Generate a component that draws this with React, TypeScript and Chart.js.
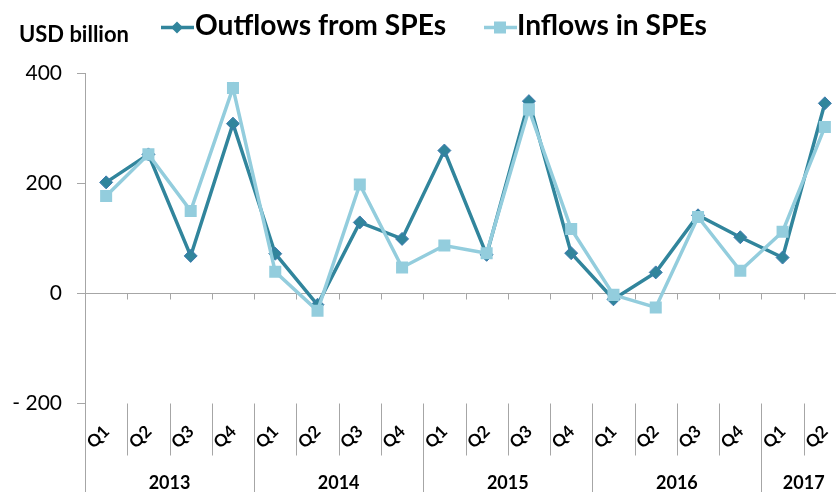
import React, { useEffect, useRef } from 'react';
import { Chart, registerables } from 'chart.js';

Chart.register(...registerables);

const quarters = ['Q1', 'Q2', 'Q3', 'Q4', 'Q1', 'Q2', 'Q3', 'Q4', 'Q1', 'Q2', 'Q3', 'Q4', 'Q1', 'Q2', 'Q3', 'Q4', 'Q1', 'Q2'];
const years = ['2013', '2014', '2015', '2016', '2017'];
const quartersPerYear = [4, 4, 4, 4, 2];
const outflows = [202, 253, 68, 309, 72, -21, 129, 99, 260, 70, 350, 73, -11, 38, 142, 102, 65, 346];
const inflows = [177, 253, 150, 374, 39, -32, 198, 47, 87, 73, 335, 117, -3, -26, 139, 41, 112, 303];
const seriesNames = ['Outflows from SPEs', 'Inflows in SPEs'];
const yTickValues = [-200, 0, 200, 400];
const yTickLabels = ['- 200', '0', '200', '400'];
const unitLabel = 'USD billion';

const DARK = '#31859C';
const DARK_EDGE = '#3E7AAE';
const LIGHT = '#93CDDD';
const AXIS = '#A6A6A6';
const FONT = 'Lato, "Open Sans", sans-serif';

function fitSize(ctx: CanvasRenderingContext2D, text: string, weight: string, target: number) {
  ctx.font = `${weight} 100px ${FONT}`;
  const w = ctx.measureText(text).width;
  return (100 * target) / w;
}

export default function App() {
  const ref = useRef<HTMLCanvasElement>(null);

  useEffect(() => {
    const canvas = ref.current!;
    const overlay = {
      id: 'overlay',
      beforeDatasetsDraw(chart: any) {
        const ctx: CanvasRenderingContext2D = chart.ctx;
        const xs = chart.scales.x;
        const ys = chart.scales.y;
        const area = chart.chartArea;
        const n = quarters.length;
        const band = xs.getPixelForValue(1) - xs.getPixelForValue(0);
        const y0 = Math.round(ys.getPixelForValue(0)) + 0.5;
        const yBot = Math.round(ys.getPixelForValue(yTickValues[0])) + 0.5;
        const H = chart.height;
        const seg = (a: number, b: number, c: number, d: number) => {
          ctx.beginPath();
          ctx.moveTo(a, b);
          ctx.lineTo(c, d);
          ctx.stroke();
        };
        ctx.save();
        ctx.strokeStyle = AXIS;
        ctx.lineWidth = 1;
        seg(area.left, y0, area.right, y0);
        const leftX = Math.round(area.left) + 0.5;
        seg(leftX, yBot, leftX, H);
        const yearEnds = new Set<number>();
        let acc = 0;
        quartersPerYear.forEach((q) => {
          acc += q;
          yearEnds.add(acc);
        });
        for (let i = 1; i <= n; i++) {
          const bx = Math.round(xs.getPixelForValue(i - 1) + band / 2) + 0.5;
          seg(bx, y0, bx, y0 + 6);
          if (yearEnds.has(i)) seg(bx, yBot, bx, H);
          else seg(bx, yBot, bx, yBot + 52);
        }
        ctx.restore();
      },
      afterDraw(chart: any) {
        const ctx: CanvasRenderingContext2D = chart.ctx;
        const xs = chart.scales.x;
        const band = xs.getPixelForValue(1) - xs.getPixelForValue(0);
        ctx.save();
        ctx.fillStyle = '#000';
        // unit label
        const us = fitSize(ctx, unitLabel, 'bold', 110);
        ctx.font = `bold ${us}px ${FONT}`;
        ctx.textAlign = 'left';
        ctx.textBaseline = 'alphabetic';
        ctx.fillText(unitLabel, 19, 42);
        // legend
        const s1 = fitSize(ctx, seriesNames[0], 'bold', 250);
        const s2 = fitSize(ctx, seriesNames[1], 'bold', 191);
        const ls = (s1 + s2) / 2;
        ctx.font = `bold ${ls}px ${FONT}`;
        ctx.fillText(seriesNames[0], 195, 35);
        ctx.fillText(seriesNames[1], 517, 35);
        ctx.lineWidth = 3.5;
        ctx.strokeStyle = DARK;
        ctx.beginPath();
        ctx.moveTo(161, 27.5);
        ctx.lineTo(194, 27.5);
        ctx.stroke();
        ctx.fillStyle = DARK;
        ctx.beginPath();
        ctx.moveTo(177, 21.5);
        ctx.lineTo(183, 27.5);
        ctx.lineTo(177, 33.5);
        ctx.lineTo(171, 27.5);
        ctx.closePath();
        ctx.fill();
        ctx.strokeStyle = LIGHT;
        ctx.beginPath();
        ctx.moveTo(484, 27.5);
        ctx.lineTo(517, 27.5);
        ctx.stroke();
        ctx.fillStyle = LIGHT;
        ctx.fillRect(494, 21.5, 12, 12);
        // quarter labels
        ctx.fillStyle = '#000';
        ctx.font = `bold 17px ${FONT}`;
        ctx.textAlign = 'center';
        ctx.textBaseline = 'middle';
        quarters.forEach((q, i) => {
          const cx = xs.getPixelForValue(i) - 8;
          ctx.save();
          ctx.translate(cx, 437);
          ctx.rotate(-Math.PI / 4);
          ctx.fillText(q, 0, 0);
          ctx.restore();
        });
        // year labels
        ctx.font = `bold 18px ${FONT}`;
        ctx.textBaseline = 'alphabetic';
        let start = 0;
        years.forEach((yr, k) => {
          const cnt = quartersPerYear[k];
          const left = xs.getPixelForValue(start) - band / 2;
          const right = xs.getPixelForValue(start + cnt - 1) + band / 2;
          ctx.fillText(yr, (left + right) / 2, 489);
          start += cnt;
        });
        ctx.restore();
      },
    };

    const chart = new Chart(canvas, {
      type: 'line',
      data: {
        labels: quarters.map((q, i) => `${q}-${i}`),
        datasets: [
          {
            label: seriesNames[0],
            data: outflows,
            borderColor: DARK,
            backgroundColor: DARK,
            borderWidth: 3.5,
            pointStyle: 'rectRot',
            pointRadius: 6.5,
            pointBackgroundColor: DARK,
            pointBorderColor: DARK_EDGE,
            pointBorderWidth: 1,
            tension: 0,
            order: 2,
          },
          {
            label: seriesNames[1],
            data: inflows,
            borderColor: LIGHT,
            backgroundColor: LIGHT,
            borderWidth: 3.5,
            pointStyle: 'rect',
            pointRadius: 8.5,
            pointBackgroundColor: LIGHT,
            pointBorderColor: LIGHT,
            pointBorderWidth: 0,
            tension: 0,
            order: 1,
          },
        ],
      },
      options: {
        responsive: false,
        animation: false,
        devicePixelRatio: 1,
        layout: { padding: { left: 0, right: 24, top: 73.7, bottom: 89 } },
        plugins: { legend: { display: false }, tooltip: { enabled: false } },
        scales: {
          x: { display: false, offset: true },
          y: {
            min: yTickValues[0],
            max: yTickValues[yTickValues.length - 1],
            afterFit: (scale: any) => {
              scale.width = 85;
            },
            afterBuildTicks: (scale: any) => {
              scale.ticks = yTickValues.map((v) => ({ value: v }));
            },
            ticks: {
              color: '#000',
              font: { family: FONT, size: 21 },
              padding: 15,
              callback: (v: any) => yTickLabels[yTickValues.indexOf(Number(v))],
            },
            grid: { drawOnChartArea: false, drawTicks: true, tickLength: 8, color: AXIS },
            border: { display: true, color: AXIS },
          },
        },
      },
      plugins: [overlay],
    });
    return () => chart.destroy();
  }, []);

  return (
    <div style={{ position: 'fixed', left: 0, top: 0, width: 836, height: 492, overflow: 'hidden', background: '#fff' }}>
      <canvas ref={ref} width={870} height={492} style={{ width: 870, height: 492, display: 'block' }} />
    </div>
  );
}
